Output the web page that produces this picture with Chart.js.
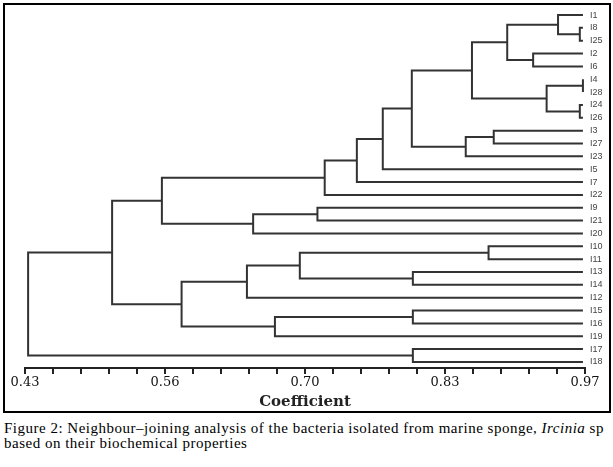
<!DOCTYPE html>
<html>
<head>
<meta charset="utf-8">
<script src="https://cdn.jsdelivr.net/npm/chart.js@4"></script>
<style>
  body { margin: 0; background: #fff; }
  #frame { position: absolute; left: 3px; top: 3px; width: 604px; height: 406px; border: 2px solid #000; }
  #chart { display: block; }
  #caption { position: absolute; left: 4px; top: 421px; font-family: "Liberation Serif", serif; font-size: 15px; line-height: 15px; letter-spacing: 0.5px; color: #000; white-space: nowrap; }
</style>
</head>
<body>
<div id="frame"><canvas id="chart" width="604" height="406"></canvas></div>
<div id="caption">Figure 2: Neighbour–joining analysis of the bacteria isolated from marine sponge, <i>Ircinia</i> sp<br>based on their biochemical properties</div>
<script>
// leaves, top to bottom
const leaves = ["I1", "I8", "I25", "I2", "I6", "I4", "I28", "I24", "I26", "I3", "I27", "I23", "I5", "I7",
  "I22", "I9", "I21", "I20", "I10", "I11", "I13", "I14", "I12", "I15", "I16", "I19", "I17", "I18"];
const leafEnd = 0.968;

// joins: [left, right, coefficient]; join k is named "n" + (k + 1)
const merges = [
  ["I8", "I25", 0.965],
  ["I1", "n1", 0.944],
  ["I2", "I6", 0.920],
  ["n2", "n3", 0.895],
  ["I4", "I28", 0.968],
  ["I24", "I26", 0.965],
  ["n5", "n6", 0.933],
  ["n4", "n7", 0.861],
  ["I3", "I27", 0.882],
  ["n9", "I23", 0.855],
  ["n8", "n10", 0.803],
  ["n11", "I5", 0.775],
  ["n12", "I7", 0.750],
  ["n13", "I22", 0.719],
  ["I9", "I21", 0.712],
  ["n15", "I20", 0.650],
  ["n14", "n16", 0.562],
  ["I10", "I11", 0.877],
  ["I13", "I14", 0.804],
  ["n18", "n19", 0.695],
  ["n20", "I12", 0.644],
  ["I15", "I16", 0.804],
  ["n22", "I19", 0.671],
  ["n21", "n23", 0.581],
  ["n17", "n24", 0.514],
  ["I17", "I18", 0.804],
  ["n25", "n26", 0.433]
];

const axisMin = 0.43;
const axisMax = 0.97;
const minorTicks = 20;
const tickLabels = ["0.43", "0.56", "0.70", "0.83", "0.97"];

// build one bracket per join
const pos = {};
leaves.forEach((name, i) => { pos[name] = { x: leafEnd, y: i }; });
const datasets = merges.map(([a, b, h], k) => {
  const pa = pos[a], pb = pos[b];
  pos["n" + (k + 1)] = { x: h, y: (pa.y + pb.y) / 2 };
  return {
    data: [{ x: pa.x, y: pa.y }, { x: h, y: pa.y }, { x: h, y: pb.y }, { x: pb.x, y: pb.y }],
    showLine: true,
    borderColor: "#333",
    borderWidth: 2,
    pointRadius: 0,
    tension: 0
  };
});

new Chart(document.getElementById("chart"), {
  type: "scatter",
  data: { datasets: datasets },
  options: {
    responsive: false,
    animation: false,
    layout: { padding: { left: 20, right: 0, top: 0, bottom: 0 } },
    plugins: { legend: { display: false }, tooltip: { enabled: false } },
    scales: {
      x: {
        type: "linear",
        min: axisMin,
        max: axisMax,
        afterBuildTicks: (s) => {
          const step = (axisMax - axisMin) / minorTicks;
          s.ticks = [];
          for (let i = 0; i <= minorTicks; i++) s.ticks.push({ value: axisMin + i * step });
        },
        afterFit: (s) => { s.height = 43; },
        ticks: {
          autoSkip: false,
          maxRotation: 0,
          padding: 1,
          color: "#111",
          font: { family: "DejaVu Serif", size: 13 },
          callback: (v, i) => (i % 5 === 0 ? tickLabels[i / 5] : "")
        },
        grid: { drawOnChartArea: false, drawTicks: true, tickLength: 6, color: "#222", lineWidth: 2 },
        border: { display: true, color: "#222", width: 2 },
        title: {
          display: true,
          text: "Coefficient",
          color: "#222",
          font: { family: "DejaVu Serif", size: 15, weight: "bold" },
          padding: { top: 0, bottom: 0 }
        }
      },
      y: {
        type: "linear",
        position: "right",
        reverse: true,
        min: -0.78,
        max: 27.47,
        afterBuildTicks: (s) => { s.ticks = leaves.map((_, i) => ({ value: i })); },
        afterFit: (s) => {
          s.width = 24;
          s.paddingTop = 0;
          s.paddingBottom = 0;
        },
        ticks: {
          autoSkip: false,
          padding: 5,
          color: "#444",
          font: { family: "Liberation Sans", size: 9 },
          callback: (v) => leaves[v]
        },
        grid: { display: false, drawTicks: false },
        border: { display: false }
      }
    }
  }
});
</script>
</body>
</html>
